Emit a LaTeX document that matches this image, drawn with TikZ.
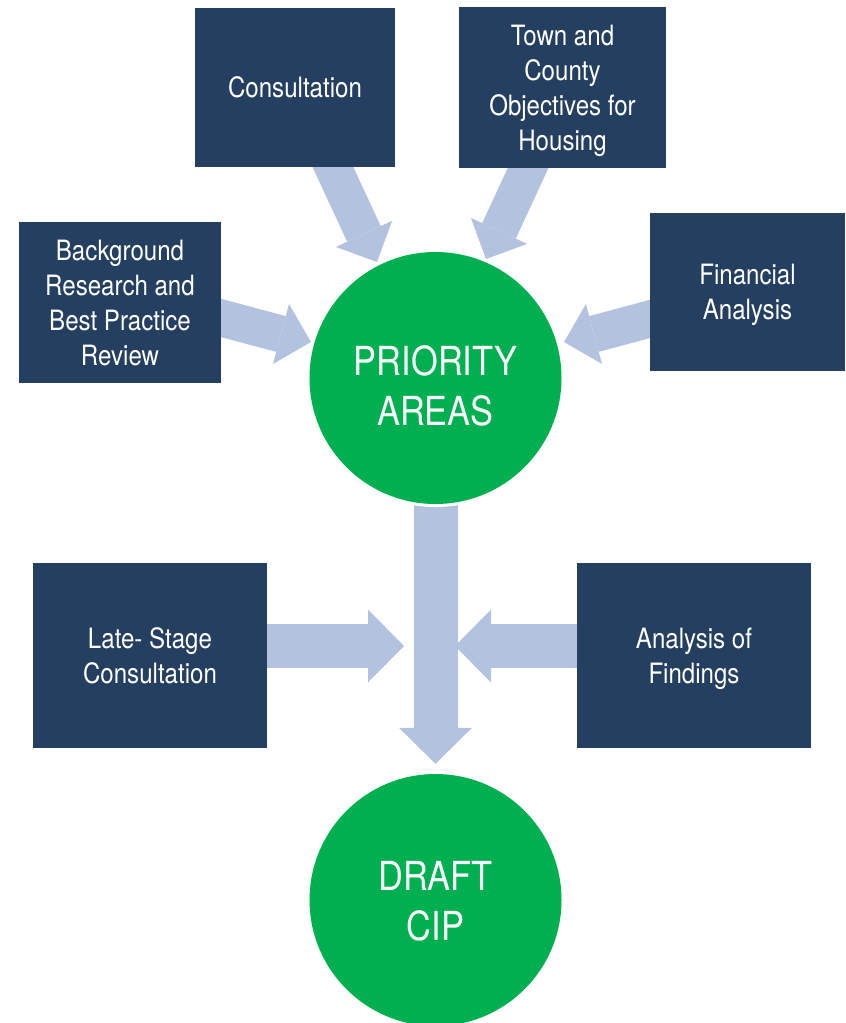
\documentclass[tikz,border=0pt]{standalone}
\usepackage{fontspec}
\newfontfamily\diagramfont{TeX Gyre Heros}[FakeStretch=0.86]
\usepackage{tikz}
\usetikzlibrary{arrows.meta}
\usetikzlibrary{backgrounds}
\usetikzlibrary{calc}

\definecolor{boxNavy}{HTML}{253F60}
\definecolor{hubGreen}{HTML}{00AF50}
\definecolor{arrowBlue}{HTML}{B3C3DF}

\begin{document}
\begin{tikzpicture}
      [x=1pt,y=-1pt,
       sourceBox/.style={rectangle,fill=boxNavy,text=white,align=center,inner sep=0pt,
         text depth=-9pt,
         font=\diagramfont\fontsize{28}{35}\selectfont},
       hubCircle/.style={circle,fill=hubGreen,text=white,align=center,inner sep=0pt,
         minimum size=252pt,preaction={draw=white,line width=6pt},
         text height=94pt,text depth=0pt,
         font=\diagramfont\fontsize{40}{50}\selectfont},
       flowArrow/.style={draw=arrowBlue,line width=37pt,
         -{Triangle[width=62pt,length=31pt,line width=0pt]}},
       mainArrow/.style={draw=arrowBlue,line width=44pt,
         -{Triangle[width=73pt,length=36pt,line width=0pt]}}]
      \useasboundingbox (0,0) rectangle (846,1023);
      \node[sourceBox,minimum width=200pt,minimum height=159pt] (consult) at (295,87.5) {Consultation};
      \node[sourceBox,minimum width=207pt,minimum height=161pt] (town) at (562.5,87.5) {Town and\\County\\Objectives for\\Housing};
      \node[sourceBox,minimum width=202pt,minimum height=161pt] (research) at (120,302.5) {Background\\Research and\\Best Practice\\Review};
      \node[sourceBox,minimum width=195pt,minimum height=158pt] (finance) at (747.5,292) {Financial\\Analysis};
      \node[hubCircle] (priority) at (435.5,378) {PRIORITY\\AREAS};
      \node[sourceBox,minimum width=234pt,minimum height=185pt] (late) at (150,655.5) {Late- Stage\\Consultation};
      \node[sourceBox,minimum width=234pt,minimum height=185pt] (findings) at (694,655.5) {Analysis of\\Findings};
      \node[hubCircle,text height=80pt] (draft) at (435.5,900) {DRAFT\\CIP};

      \coordinate (consultTip) at (377,262);
      \coordinate (townTip) at (486,259);
      \coordinate (researchTip) at (311,342);
      \coordinate (financeTip) at (564,342);
      \coordinate (lateTip) at (404,646);
      \coordinate (findingsTip) at (455,646);

      \begin{scope}[on background layer]
        \fill[white] (0,0) rectangle (846,1023);
        \draw[flowArrow] ($([xshift=38pt]consult.south)!-0.25!(consultTip)$) -- (consultTip);
        \draw[flowArrow] ($([xshift=-34.5pt]town.south)!-0.25!(townTip)$) -- (townTip);
        \draw[flowArrow] ($([yshift=-15.5pt]research.east)!-0.25!(researchTip)$) -- (researchTip);
        \draw[flowArrow] ($([yshift=-27pt]finance.west)!-0.25!(financeTip)$) -- (financeTip);
        \draw[mainArrow] (priority.center) -- ([yshift=10pt]draft.north);
        \draw[mainArrow] ([yshift=9.5pt]late.east) -- (lateTip);
        \draw[mainArrow] ([yshift=9.5pt]findings.west) -- (findingsTip);
      \end{scope}
    \end{tikzpicture}
\end{document}
